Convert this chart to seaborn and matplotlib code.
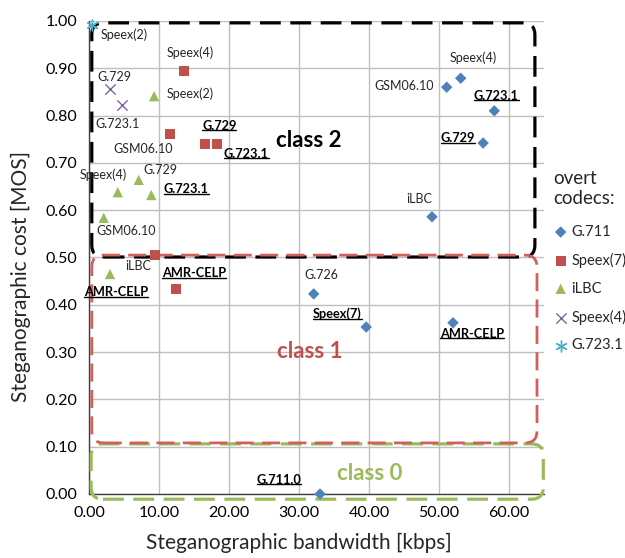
import matplotlib
matplotlib.use("Agg")
import matplotlib.pyplot as plt
import matplotlib.ticker
import seaborn as sns
import pandas as pd
import numpy as np
from matplotlib.patches import FancyBboxPatch
from matplotlib.lines import Line2D

# overt codecs (legend) and the hidden codecs measured on top of each
codecs = ["G.711", "Speex(7)", "iLBC", "Speex(4)", "G.723.1"]

g711_x = [51.1, 53.1, 57.9, 56.3, 49.0, 32.1, 39.6, 52.0, 33.0]
g711_y = [0.860, 0.879, 0.810, 0.742, 0.586, 0.423, 0.353, 0.362, 0.0]
g711_lbl = ["GSM06.10", "Speex(4)", "G.723.1", "G.729", "iLBC", "G.726", "Speex(7)", "AMR-CELP", "G.711.0"]

speex7_x = [13.6, 11.6, 16.6, 18.3, 9.4, 12.4]
speex7_y = [0.894, 0.761, 0.740, 0.740, 0.505, 0.433]
speex7_lbl = ["Speex(4)", "GSM06.10", "G.729", "G.723.1", "iLBC", "AMR-CELP"]

ilbc_x = [9.3, 7.1, 4.1, 8.9, 2.1, 3.0]
ilbc_y = [0.841, 0.664, 0.638, 0.632, 0.584, 0.465]
ilbc_lbl = ["Speex(2)", "G.729", "Speex(4)", "G.723.1", "GSM06.10", "AMR-CELP"]

speex4_x = [3.0, 4.7]
speex4_y = [0.856, 0.822]
speex4_lbl = ["G.729", "G.723.1"]

g7231_x = [0.4]
g7231_y = [0.992]
g7231_lbl = ["Speex(2)"]

x_ticks = [0, 10, 20, 30, 40, 50, 60]
y_ticks = [0.0, 0.1, 0.2, 0.3, 0.4, 0.5, 0.6, 0.7, 0.8, 0.9, 1.0]

frames = []
for name, xs, ys, ls in [("G.711", g711_x, g711_y, g711_lbl),
                         ("Speex(7)", speex7_x, speex7_y, speex7_lbl),
                         ("iLBC", ilbc_x, ilbc_y, ilbc_lbl),
                         ("Speex(4)", speex4_x, speex4_y, speex4_lbl),
                         ("G.723.1", g7231_x, g7231_y, g7231_lbl)]:
    frames.append(pd.DataFrame({"overt": name, "bw": xs, "cost": ys, "hidden": ls}))
df = pd.concat(frames, ignore_index=True)

# label placement (pixel offsets from the point) and bold/underlined ones
offsets = {
    "G.711": [(-43, 1), (13, 20), (2, 15), (-25, 5), (-13, 18), (8, 19), (-29, 13), (19, -11), (-41, 14)],
    "Speex(7)": [(6, 18), (-27, -15), (14, 18), (29, -10), (-17, -11), (18, 16)],
    "iLBC": [(36, 2), (22, 10), (-14, 17), (35, 6), (22, -13), (6, -18)],
    "Speex(4)": [(4, 12), (-4, -19)],
    "G.723.1": [(32, -10)],
}
bold = {
    "G.711": {"G.723.1", "G.729", "Speex(7)", "AMR-CELP", "G.711.0"},
    "Speex(7)": {"G.729", "G.723.1", "AMR-CELP"},
    "iLBC": {"G.723.1", "AMR-CELP"},
    "Speex(4)": set(),
    "G.723.1": set(),
}

colors = {"G.711": "#4F81BD", "Speex(7)": "#C0504D", "iLBC": "#9BBB59",
          "Speex(4)": "#8064A2", "G.723.1": "#4BACC6"}
markers = {"G.711": "D", "Speex(7)": "s", "iLBC": "^", "Speex(4)": "x", "G.723.1": (6, 2, 0)}
sizes = {"G.711": 34, "Speex(7)": 55, "iLBC": 55, "Speex(4)": 55, "G.723.1": 60}

sns.set_style("white")
plt.rcParams['font.family'] = ['Lato', 'DejaVu Sans']

fig = plt.figure(figsize=(6.25, 5.58), dpi=100)
ax = fig.add_axes([0.1424, 0.1147, 0.728, 0.8477])

for name in codecs:
    sub = df[df.overt == name]
    kw = dict(edgecolor="none") if name in ("G.711", "Speex(7)", "iLBC") else dict(linewidth=1.0)
    sns.scatterplot(data=sub, x="bw", y="cost", ax=ax, marker=markers[name], color=colors[name],
                    s=sizes[name], label=name, zorder=5, clip_on=False, **kw)

underlined = []
for name in codecs:
    sub = df[df.overt == name].reset_index(drop=True)
    for i, row in sub.iterrows():
        dx, dy = offsets[name][i]
        b = row["hidden"] in bold[name]
        t = ax.annotate(row["hidden"], (row["bw"], row["cost"]), xytext=(dx, dy),
                        textcoords="offset pixels", ha="center", va="center",
                        fontsize=9.2 if b else 9, fontweight="bold" if b else "normal",
                        color="black" if b else "#262626", zorder=6, annotation_clip=False)
        if b:
            underlined.append(t)

# class regions as rounded dashed boxes
asp = (1 / 473) / (10 / 70)
r = 1.7


def region(x0, y0, x1, y1, color, lw, z):
    p = FancyBboxPatch((x0 + r, y0 + r * asp), (x1 - x0) - 2 * r, (y1 - y0) - 2 * r * asp,
                       boxstyle=f"round,pad={r},rounding_size={r}", mutation_aspect=asp,
                       facecolor="none", edgecolor=color, linewidth=lw,
                       linestyle=(0, (6.5, 3)), zorder=z, clip_on=False)
    ax.add_patch(p)


region(0.3, -0.011, 64.9, 0.106, "#9BBB59", 2.3, 3)
region(0.4, 0.108, 64.0, 0.505, "#D0605C", 2.0, 3.2)
region(0.4, 0.501, 63.7, 0.996, "black", 2.3, 3.1)

ax.text(31.4, 0.748, "class 2", fontsize=16, fontweight="bold", color="black", ha="center", va="center", zorder=6)
ax.text(31.5, 0.302, "class 1", fontsize=16, fontweight="bold", color="#C0504D", ha="center", va="center", zorder=6)
ax.text(40.1, 0.044, "class 0", fontsize=16, fontweight="bold", color="#9BBB59", ha="center", va="center", zorder=6)

ax.set_xlim(0, 65)
ax.set_ylim(0, 1)
ax.set_xticks(x_ticks)
ax.set_yticks(y_ticks)
ax.xaxis.set_major_formatter(matplotlib.ticker.FuncFormatter(lambda v, p: f"{v:.2f}"))
ax.yaxis.set_major_formatter(matplotlib.ticker.FuncFormatter(lambda v, p: f"{v:.2f}"))
ax.grid(True, color="#BFBFBF", linewidth=1.0)
ax.set_axisbelow(True)
for s in ["top", "right"]:
    ax.spines[s].set_visible(False)
for s in ["left", "bottom"]:
    ax.spines[s].set_color("#404040")
    ax.spines[s].set_linewidth(1.0)
ax.tick_params(axis="both", direction="out", length=5, width=1, color="#404040",
               labelsize=11.5, labelcolor="black")
ax.set_xlabel("Steganographic bandwidth [kbps]", fontsize=15)
ax.set_ylabel("Steganographic cost [MOS]", fontsize=15)
ax.xaxis.set_label_coords(0.462, -0.082)
ax.yaxis.set_label_coords(-0.128, 0.459)

leg = ax.legend(title="overt\ncodecs:", loc="upper left", bbox_to_anchor=(553 / 625, 1 - 170 / 558),
                bbox_transform=fig.transFigure, frameon=False, alignment="left",
                handletextpad=0.2, handlelength=1.05, labelspacing=0.95, borderpad=0,
                borderaxespad=0, fontsize=10.5, title_fontsize=13.5, markerscale=1.0)
leg._legend_box.sep = 13

fig.canvas.draw()
renderer = fig.canvas.get_renderer()
inv = fig.transFigure.inverted()
for t in underlined:
    bb = t.get_window_extent(renderer)
    (fx0, fy0), (fx1, _) = inv.transform([(bb.x0, bb.y0 + 1.5), (bb.x1, bb.y0)])
    fig.add_artist(Line2D([fx0, fx1], [fy0, fy0], transform=fig.transFigure, color="black",
                          linewidth=1.0, zorder=7))

plt.savefig("out.png", dpi=100)
